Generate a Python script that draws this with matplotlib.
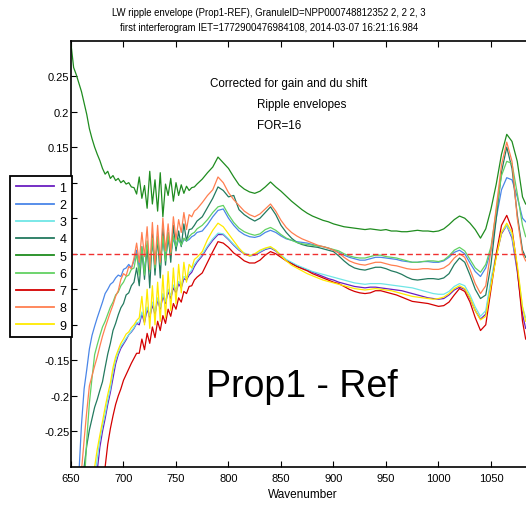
import numpy as np
import matplotlib
matplotlib.use("Agg")
import matplotlib.pyplot as plt

plt.rcParams['font.family'] = ['Liberation Sans', 'DejaVu Sans']

# wavenumber sampling (fine in the ripple region, 5 cm-1 elsewhere)
wn = np.concatenate([np.arange(650, 770.01, 2.5), np.arange(775, 1080.01, 5), [1083]])

s1 = [-0.45, -0.45, -0.45, -0.45, -0.44, -0.43, -0.41, -0.39,
      -0.365, -0.340, -0.305, -0.272, -0.250, -0.232, -0.212, -0.195,
      -0.175, -0.155, -0.142, -0.133, -0.127, -0.121, -0.114, -0.110,
      -0.105, -0.098, -0.100, -0.085, -0.097, -0.078, -0.090, -0.072,
      -0.085, -0.065, -0.078, -0.060, -0.070, -0.053, -0.063, -0.048,
      -0.055, -0.042, -0.048, -0.035, -0.037, -0.030, -0.026, -0.018,
      -0.012,
      -0.003, 0.009, 0.019, 0.027, 0.027, 0.020, 0.012, 0.005, 0.000, -0.003,
      -0.002, 0.002, 0.006, 0.008, 0.004, -0.003, -0.009, -0.013, -0.017, -0.020,
      -0.023, -0.026, -0.029, -0.032, -0.035, -0.037, -0.040, -0.042, -0.044, -0.046,
      -0.047, -0.048, -0.047, -0.047, -0.048, -0.049, -0.050, -0.051, -0.052, -0.054,
      -0.056, -0.058, -0.060, -0.062, -0.063, -0.064, -0.063, -0.058, -0.051, -0.047,
      -0.050, -0.063, -0.080, -0.092, -0.085, -0.040, -0.003, 0.028, 0.040, 0.022,
      -0.025, -0.085, -0.105]

s2 = [-0.45, -0.42, -0.38, -0.31, -0.240, -0.190, -0.163, -0.134,
      -0.115, -0.102, -0.090, -0.079, -0.068, -0.056, -0.050, -0.043,
      -0.040, -0.034, -0.030, -0.032, -0.022, -0.020, -0.015, -0.020,
      -0.010, 0.005, -0.020, 0.010, -0.025, 0.012, -0.020, 0.015,
      -0.015, 0.018, -0.010, 0.020, -0.005, 0.020, 0.000, 0.022,
      0.008, 0.020, 0.012, 0.020, 0.018, 0.020, 0.024, 0.026,
      0.030,
      0.032, 0.041, 0.052, 0.061, 0.063, 0.050, 0.040, 0.032, 0.027, 0.024,
      0.023, 0.025, 0.030, 0.033, 0.030, 0.025, 0.021, 0.019, 0.017, 0.016,
      0.015, 0.013, 0.011, 0.010, 0.008, 0.005, 0.002, -0.002, -0.005, -0.007,
      -0.009, -0.009, -0.007, -0.005, -0.005, -0.006, -0.007, -0.008, -0.010, -0.011,
      -0.012, -0.012, -0.011, -0.011, -0.012, -0.012, -0.010, -0.005, 0.002, 0.005,
      0.000, -0.013, -0.025, -0.032, -0.020, 0.005, 0.050, 0.090, 0.107, 0.104,
      0.080, 0.050, 0.045]

s3 = [-0.45, -0.45, -0.45, -0.44, -0.43, -0.41, -0.39, -0.37,
      -0.345, -0.315, -0.288, -0.262, -0.242, -0.226, -0.206, -0.190,
      -0.166, -0.150, -0.139, -0.130, -0.125, -0.119, -0.114, -0.109,
      -0.104, -0.097, -0.096, -0.082, -0.093, -0.075, -0.087, -0.068,
      -0.082, -0.062, -0.075, -0.056, -0.067, -0.050, -0.059, -0.044,
      -0.051, -0.039, -0.044, -0.032, -0.034, -0.027, -0.023, -0.015,
      -0.010,
      -0.001, 0.011, 0.021, 0.029, 0.028, 0.021, 0.013, 0.006, 0.001, -0.002,
      -0.001, 0.003, 0.007, 0.009, 0.005, -0.002, -0.008, -0.012, -0.016, -0.019,
      -0.022, -0.025, -0.027, -0.029, -0.031, -0.033, -0.035, -0.037, -0.039, -0.041,
      -0.042, -0.043, -0.042, -0.042, -0.042, -0.043, -0.044, -0.045, -0.046, -0.047,
      -0.048, -0.050, -0.052, -0.054, -0.056, -0.057, -0.057, -0.053, -0.046, -0.042,
      -0.045, -0.058, -0.075, -0.088, -0.080, -0.035, 0.000, 0.030, 0.040, 0.025,
      -0.020, -0.075, -0.090]

s4 = [-0.45, -0.44, -0.42, -0.38, -0.34, -0.300, -0.270, -0.248,
      -0.232, -0.216, -0.205, -0.192, -0.180, -0.160, -0.141, -0.126,
      -0.108, -0.098, -0.086, -0.076, -0.070, -0.058, -0.055, -0.045,
      -0.040, -0.020, -0.045, 0.005, -0.036, 0.012, -0.048, 0.028,
      -0.030, 0.024, -0.034, 0.036, -0.016, 0.030, -0.012, 0.040,
      0.004, 0.032, 0.010, 0.042, 0.018, 0.034, 0.035, 0.040,
      0.046,
      0.052, 0.065, 0.078, 0.094, 0.089, 0.080, 0.082, 0.062, 0.055, 0.050,
      0.046, 0.050, 0.058, 0.066, 0.055, 0.040, 0.030, 0.022, 0.016, 0.013,
      0.011, 0.010, 0.009, 0.007, 0.005, 0.003, -0.003, -0.010, -0.016, -0.020,
      -0.022, -0.023, -0.021, -0.019, -0.019, -0.021, -0.024, -0.026, -0.029, -0.033,
      -0.036, -0.037, -0.036, -0.035, -0.035, -0.036, -0.034, -0.028, -0.015, -0.006,
      -0.012, -0.030, -0.050, -0.063, -0.058, -0.015, 0.050, 0.115, 0.150, 0.120,
      0.055, 0.005, -0.005]

s5 = [0.295, 0.262, 0.252, 0.240, 0.228, 0.212, 0.196, 0.176,
      0.162, 0.150, 0.140, 0.131, 0.120, 0.112, 0.116, 0.106,
      0.110, 0.103, 0.106, 0.100, 0.103, 0.098, 0.100, 0.094,
      0.093, 0.084, 0.108, 0.078, 0.096, 0.064, 0.116, 0.070,
      0.104, 0.060, 0.114, 0.052, 0.098, 0.082, 0.106, 0.074,
      0.100, 0.082, 0.097, 0.085, 0.095, 0.089, 0.093, 0.094,
      0.098,
      0.105, 0.114, 0.122, 0.136, 0.128, 0.120, 0.108, 0.097, 0.091, 0.087,
      0.085, 0.088, 0.094, 0.101, 0.094, 0.088, 0.081, 0.074, 0.068, 0.062,
      0.057, 0.053, 0.050, 0.047, 0.045, 0.042, 0.040, 0.038, 0.037, 0.036,
      0.035, 0.034, 0.035, 0.034, 0.033, 0.034, 0.032, 0.032, 0.031, 0.031,
      0.032, 0.033, 0.032, 0.032, 0.031, 0.032, 0.035, 0.041, 0.048, 0.053,
      0.050, 0.043, 0.034, 0.022, 0.035, 0.063, 0.098, 0.140, 0.168, 0.158,
      0.130, 0.080, 0.070]

s6 = [-0.45, -0.44, -0.43, -0.41, -0.38, -0.33, -0.262, -0.210,
      -0.175, -0.142, -0.128, -0.115, -0.103, -0.095, -0.085, -0.075,
      -0.068, -0.058, -0.054, -0.045, -0.040, -0.032, -0.030, -0.022,
      -0.020, 0.000, -0.030, 0.010, -0.030, 0.018, -0.025, 0.022,
      -0.020, 0.025, -0.015, 0.025, -0.010, 0.028, 0.000, 0.025,
      0.010, 0.022, 0.012, 0.022, 0.018, 0.024, 0.028, 0.030,
      0.035,
      0.040, 0.048, 0.058, 0.066, 0.068, 0.055, 0.044, 0.036, 0.031, 0.028,
      0.026, 0.028, 0.034, 0.037, 0.033, 0.027, 0.022, 0.019, 0.016, 0.014,
      0.013, 0.012, 0.011, 0.010, 0.008, 0.006, 0.004, 0.000, -0.003, -0.005,
      -0.006, -0.006, -0.004, -0.002, -0.002, -0.004, -0.005, -0.006, -0.008, -0.010,
      -0.012, -0.012, -0.011, -0.010, -0.010, -0.011, -0.009, -0.003, 0.005, 0.009,
      0.004, -0.008, -0.020, -0.026, -0.015, 0.010, 0.060, 0.110, 0.130, 0.127,
      0.085, 0.040, 0.024]

s7 = [-0.45, -0.45, -0.45, -0.45, -0.45, -0.45, -0.45, -0.44,
      -0.42, -0.40, -0.38, -0.36, -0.33, -0.300, -0.268, -0.246,
      -0.228, -0.212, -0.200, -0.190, -0.178, -0.170, -0.162, -0.154,
      -0.147, -0.140, -0.140, -0.120, -0.135, -0.112, -0.126, -0.103,
      -0.118, -0.095, -0.108, -0.087, -0.098, -0.078, -0.088, -0.070,
      -0.078, -0.062, -0.068, -0.053, -0.056, -0.046, -0.045, -0.037,
      -0.033,
      -0.027, -0.012, 0.003, 0.017, 0.015, 0.009, 0.001, -0.004, -0.010, -0.013,
      -0.013, -0.009, -0.002, 0.003, 0.000, -0.005, -0.010, -0.014, -0.018, -0.021,
      -0.024, -0.028, -0.031, -0.034, -0.037, -0.040, -0.042, -0.046, -0.050, -0.053,
      -0.055, -0.056, -0.055, -0.052, -0.052, -0.054, -0.056, -0.058, -0.061, -0.064,
      -0.067, -0.068, -0.069, -0.070, -0.072, -0.074, -0.073, -0.068, -0.058, -0.049,
      -0.053, -0.068, -0.090, -0.108, -0.100, -0.050, 0.000, 0.040, 0.054, 0.035,
      -0.020, -0.095, -0.120]

s8 = [-0.40, -0.38, -0.36, -0.33, -0.305, -0.262, -0.222, -0.186,
      -0.172, -0.158, -0.145, -0.130, -0.116, -0.104, -0.093, -0.082,
      -0.072, -0.060, -0.052, -0.036, -0.028, -0.031, -0.018, -0.021,
      -0.006, 0.015, -0.012, 0.030, -0.004, 0.038, -0.022, 0.044,
      -0.015, 0.040, -0.012, 0.050, 0.004, 0.042, 0.002, 0.052,
      0.020, 0.048, 0.030, 0.058, 0.034, 0.055, 0.052, 0.060,
      0.063,
      0.072, 0.082, 0.090, 0.108, 0.100, 0.086, 0.076, 0.068, 0.060, 0.055,
      0.052, 0.056, 0.063, 0.070, 0.060, 0.047, 0.037, 0.030, 0.025, 0.021,
      0.018, 0.015, 0.012, 0.010, 0.008, 0.005, 0.001, -0.005, -0.010, -0.013,
      -0.015, -0.016, -0.014, -0.012, -0.012, -0.014, -0.016, -0.017, -0.019, -0.021,
      -0.022, -0.022, -0.021, -0.021, -0.022, -0.022, -0.020, -0.015, -0.006, 0.000,
      -0.005, -0.022, -0.042, -0.056, -0.045, 0.005, 0.065, 0.125, 0.157, 0.130,
      0.050, 0.000, -0.010]

s9 = [-0.45, -0.45, -0.45, -0.45, -0.44, -0.43, -0.40, -0.37,
      -0.335, -0.300, -0.275, -0.255, -0.236, -0.216, -0.198, -0.182,
      -0.160, -0.145, -0.135, -0.126, -0.120, -0.113, -0.110, -0.104,
      -0.100, -0.094, -0.090, -0.060, -0.100, -0.050, -0.105, -0.045,
      -0.100, -0.040, -0.095, -0.030, -0.090, -0.025, -0.080, -0.020,
      -0.070, -0.015, -0.055, -0.012, -0.040, -0.015, -0.020, -0.008,
      -0.005,
      0.003, 0.020, 0.033, 0.043, 0.038, 0.028, 0.018, 0.008, 0.000, -0.003,
      0.000, 0.005, 0.008, 0.010, 0.005, -0.003, -0.010, -0.016, -0.020, -0.024,
      -0.028, -0.031, -0.034, -0.037, -0.039, -0.041, -0.043, -0.045, -0.047, -0.049,
      -0.050, -0.051, -0.050, -0.049, -0.050, -0.051, -0.052, -0.054, -0.056, -0.058,
      -0.060, -0.061, -0.062, -0.063, -0.064, -0.063, -0.061, -0.056, -0.049, -0.045,
      -0.049, -0.062, -0.080, -0.093, -0.088, -0.045, -0.005, 0.030, 0.043, 0.030,
      -0.015, -0.075, -0.095]

labels = ['1', '2', '3', '4', '5', '6', '7', '8', '9']
series = [s1, s2, s3, s4, s5, s6, s7, s8, s9]
colors = ['#6a1fc0', '#4a86e8', '#6fe6e6', '#237a5f', '#1f8c1f',
          '#62d162', '#d40000', '#ff7f50', '#ffea00']

xticks = [650, 700, 750, 800, 850, 900, 950, 1000, 1050]
yticks = [-0.25, -0.2, -0.15, -0.1, -0.05, 0, 0.05, 0.1, 0.15, 0.2, 0.25]
# labels 0.1 .. -0.1 lie under the legend box in the reference
ytick_labels = ['-0.25', '-0.2', '-0.15', '', '', '', '', '', '0.15', '0.2', '0.25']

W, H = 526, 506
fig = plt.figure(figsize=(W / 100, H / 100), dpi=100)
ax = fig.add_axes([71 / W, (H - 468) / H, (W - 71) / W, 426.5 / H])

handles = []
for s, c, lab in zip(series, colors, labels):
    assert len(s) == len(wn)
    h, = ax.plot(wn, s, color=c, lw=0.9, label=lab)
    handles.append(h)

ax.axhline(0, color='#f03030', lw=1.0, dashes=(4, 2.2))

ax.set_xlim(650, 650 + 455 / 1.05)
ax.set_ylim(-0.3, 0.3)
ax.set_xticks(xticks)
ax.set_xticklabels([str(v) for v in xticks])
ax.set_yticks(yticks)
ax.set_yticklabels(ytick_labels)
ax.tick_params(direction='in', length=4, width=0.8, labelsize=8, top=True, right=False)
ax.tick_params(axis='y', pad=1.2)
ax.tick_params(axis='x', pad=4)
for sp in ['left', 'bottom', 'top']:
    ax.spines[sp].set_linewidth(1.2)
ax.spines['right'].set_visible(False)

fig.text(303 / W, 1 - 495 / H, 'Wavenumber', ha='center', va='center', fontsize=8.5)

fig.text(269 / W, 1 - 13 / H, 'LW ripple envelope (Prop1-REF), GranuleID=NPP000748812352 2, 2 2, 3',
         ha='center', va='center', fontsize=6.9)
fig.text(269 / W, 1 - 28 / H, 'first interferogram IET=1772900476984108, 2014-03-07 16:21:16.984',
         ha='center', va='center', fontsize=6.9)

fig.text(289 / W, 1 - 84 / H, 'Corrected for gain and du shift', ha='center', va='center', fontsize=8.4)
fig.text(257 / W, 1 - 105 / H, 'Ripple envelopes', ha='left', va='center', fontsize=8.4)
fig.text(257 / W, 1 - 126 / H, 'FOR=16', ha='left', va='center', fontsize=8.4)

fig.text(302 / W, 1 - 387 / H, 'Prop1 - Ref', ha='center', va='center', fontsize=27)

leg = fig.legend(handles, labels, loc='upper left', bbox_to_anchor=(10 / W, 1 - 177 / H),
                 frameon=True, fancybox=False, edgecolor='black', framealpha=1, fontsize=9,
                 handlelength=3.1, handletextpad=0.4, labelspacing=0.42, borderpad=0.45,
                 borderaxespad=0)
leg.get_frame().set_linewidth(1.3)
for ln in leg.get_lines():
    ln.set_linewidth(1.3)

fig.savefig('out.png', dpi=100)
